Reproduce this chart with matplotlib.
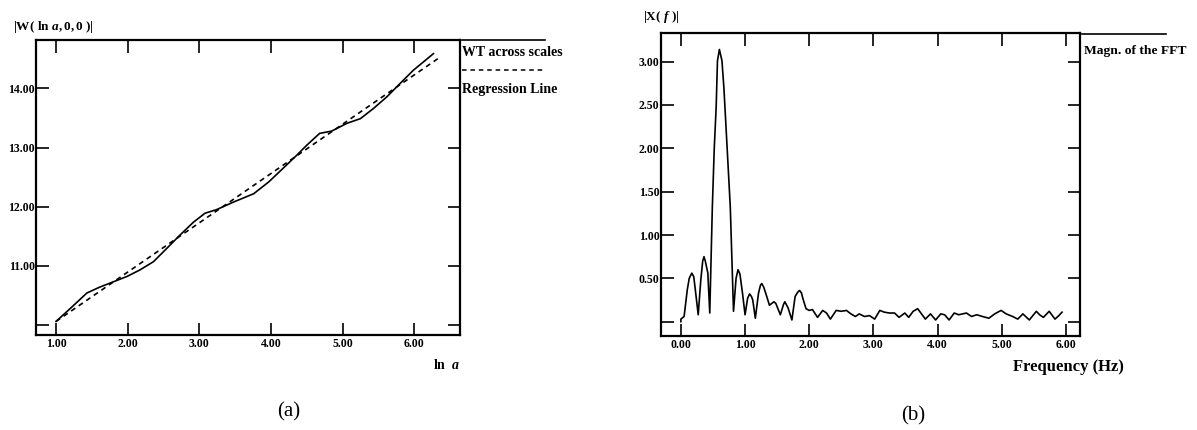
import matplotlib
matplotlib.use("Agg")
import matplotlib.pyplot as plt
from matplotlib.lines import Line2D

plt.rcParams['font.family'] = ['Liberation Serif', 'DejaVu Serif']
plt.rcParams['font.weight'] = 'bold'
plt.rcParams['mathtext.fontset'] = 'custom'
plt.rcParams['mathtext.rm'] = 'Liberation Serif:bold'
plt.rcParams['mathtext.it'] = 'Liberation Serif:italic:bold'
plt.rcParams['mathtext.bf'] = 'Liberation Serif:bold'

# (a) wavelet transform across scales
ln_a = [1.00, 1.20, 1.43, 1.61, 1.80, 1.99, 2.17, 2.36, 2.55, 2.73, 2.92, 3.08,
        3.24, 3.48, 3.76, 3.97, 4.17, 4.36, 4.50, 4.68, 4.85, 5.06, 5.25, 5.43,
        5.62, 5.80, 5.99, 6.13, 6.27]
wt = [10.06, 10.28, 10.54, 10.64, 10.73, 10.82, 10.93, 11.07, 11.30, 11.52, 11.74, 11.89,
      11.95, 12.08, 12.22, 12.42, 12.65, 12.87, 13.04, 13.24, 13.28, 13.41, 13.49, 13.66,
      13.86, 14.08, 14.31, 14.45, 14.59]
reg_x = [1.00, 6.35]
reg_y = [10.06, 14.52]
a_xticks = [1, 2, 3, 4, 5, 6]
a_xlabels = ['1.00', '2.00', '3.00', '4.00', '5.00', '6.00']
a_yticks = [10, 11, 12, 13, 14]
a_ylabels = ['', '11.00', '12.00', '13.00', '14.00']

# (b) magnitude of the FFT
freq = [0.00, 0.00, 0.05, 0.10, 0.13, 0.17, 0.20, 0.22, 0.27, 0.31, 0.34, 0.36,
        0.38, 0.42, 0.45, 0.49, 0.52, 0.55, 0.57, 0.60, 0.64, 0.67, 0.70, 0.77,
        0.82, 0.86, 0.89, 0.92, 0.96, 1.00, 1.04, 1.07, 1.10, 1.12, 1.16, 1.21,
        1.24, 1.26, 1.29, 1.33, 1.38, 1.45, 1.48, 1.55, 1.60, 1.62, 1.67, 1.73,
        1.78, 1.82, 1.85, 1.88, 1.90, 1.95, 2.00, 2.05, 2.13, 2.21, 2.27, 2.33,
        2.42, 2.50, 2.58, 2.65, 2.72, 2.78, 2.86, 2.94, 3.02, 3.10, 3.17, 3.25,
        3.33, 3.40, 3.49, 3.55, 3.62, 3.69, 3.76, 3.81, 3.89, 3.97, 4.05, 4.11,
        4.18, 4.26, 4.33, 4.45, 4.53, 4.61, 4.70, 4.80, 4.89, 4.99, 5.07, 5.17,
        5.25, 5.33, 5.43, 5.54, 5.59, 5.65, 5.74, 5.83, 5.89, 5.94]
magn = [0.00, 0.03, 0.06, 0.37, 0.50, 0.56, 0.52, 0.40, 0.08, 0.48, 0.70, 0.75,
        0.70, 0.56, 0.10, 1.32, 2.00, 2.48, 3.01, 3.14, 3.01, 2.70, 2.29, 1.32,
        0.12, 0.50, 0.60, 0.55, 0.33, 0.08, 0.27, 0.32, 0.29, 0.25, 0.04, 0.33,
        0.42, 0.44, 0.40, 0.31, 0.19, 0.23, 0.21, 0.08, 0.20, 0.23, 0.16, 0.02,
        0.29, 0.34, 0.36, 0.33, 0.27, 0.15, 0.13, 0.14, 0.05, 0.13, 0.10, 0.03,
        0.13, 0.12, 0.13, 0.09, 0.06, 0.09, 0.06, 0.07, 0.03, 0.13, 0.11, 0.10,
        0.10, 0.05, 0.10, 0.05, 0.12, 0.15, 0.08, 0.03, 0.09, 0.02, 0.09, 0.08,
        0.02, 0.10, 0.08, 0.10, 0.06, 0.08, 0.06, 0.04, 0.09, 0.13, 0.09, 0.06,
        0.03, 0.09, 0.02, 0.12, 0.08, 0.05, 0.12, 0.03, 0.07, 0.11]
b_xticks = [0, 1, 2, 3, 4, 5, 6]
b_xlabels = ['0.00', '1.00', '2.00', '3.00', '4.00', '5.00', '6.00']
b_yticks = [0.0, 0.5, 1.0, 1.5, 2.0, 2.5, 3.0]
b_ylabels = ['', '0.50', '1.00', '1.50', '2.00', '2.50', '3.00']

W, H = 1197, 430
fig = plt.figure(figsize=(W / 100, H / 100), dpi=100)


def fx(px):
    return px / W


def fy(py):
    return 1 - py / H


def box(ax):
    for s in ax.spines.values():
        s.set_linewidth(1.6)
    ax.tick_params(which='both', direction='in', top=True, right=True,
                   length=9, width=1.2, labelsize=8.5, pad=2)
    ax.tick_params(axis='y', pad=1)
    for lab in ax.get_xticklabels() + ax.get_yticklabels():
        lab.set_fontweight('bold')


ax1 = fig.add_axes([fx(36), fy(335), fx(460) - fx(36), fy(40) - fy(335)])
ax1.plot(ln_a, wt, color='black', lw=1.2)
ax1.plot(reg_x, reg_y, color='black', lw=1.2, ls=(0, (3, 2.5)))
ax1.set_xlim(0.72, 6.64)
ax1.set_ylim(9.83, 14.82)
ax1.set_xticks(a_xticks, a_xlabels)
ax1.set_yticks(a_yticks, a_ylabels)
box(ax1)

ax2 = fig.add_axes([fx(661), fy(336), fx(1080) - fx(661), fy(33) - fy(336)])
ax2.plot(freq, magn, color='black', lw=1.2)
ax2.set_xlim(-0.31, 6.22)
ax2.set_ylim(-0.165, 3.33)
ax2.set_xticks(b_xticks, b_xlabels)
ax2.set_yticks(b_yticks, b_ylabels)
box(ax2)

# axis titles
fig.text(fx(13), fy(27), r"$\mathrm{|W(\ ln\ }a\mathrm{,0,0\ )|}$", fontsize=9.5, va='center')
fig.text(fx(643), fy(17), r"$\mathrm{|X(\ }f\mathrm{\ )|}$", fontsize=9.5, va='center')
fig.text(fx(433), fy(365), r"$\mathrm{ln}\ \ a$", fontsize=10, va='center')
fig.text(fx(1013), fy(367), "Frequency (Hz)", fontsize=12, fontweight='bold', va='center')

# legends
fig.add_artist(Line2D([fx(462), fx(545)], [fy(39.5), fy(39.5)], color='black', lw=1.2))
fig.text(fx(462), fy(52), "WT across scales", fontsize=10, fontweight='bold', va='center')
fig.add_artist(Line2D([fx(462), fx(545)], [fy(70), fy(70)], color='black', lw=1.1,
                      ls=(0, (3, 2.5))))
fig.text(fx(462), fy(89), "Regression Line", fontsize=10, fontweight='bold', va='center')
fig.add_artist(Line2D([fx(1082), fx(1166)], [fy(33.5), fy(33.5)], color='black', lw=1.2))
fig.text(fx(1084), fy(51), "Magn. of the FFT", fontsize=9.7, fontweight='bold', va='center')

# panel captions
fig.text(fx(289), fy(412), "(a)", fontsize=15, fontweight='normal', ha='center', va='center')
fig.text(fx(913), fy(416), "(b)", fontsize=15, fontweight='normal', ha='center', va='center')

fig.savefig("out.png", dpi=100)
